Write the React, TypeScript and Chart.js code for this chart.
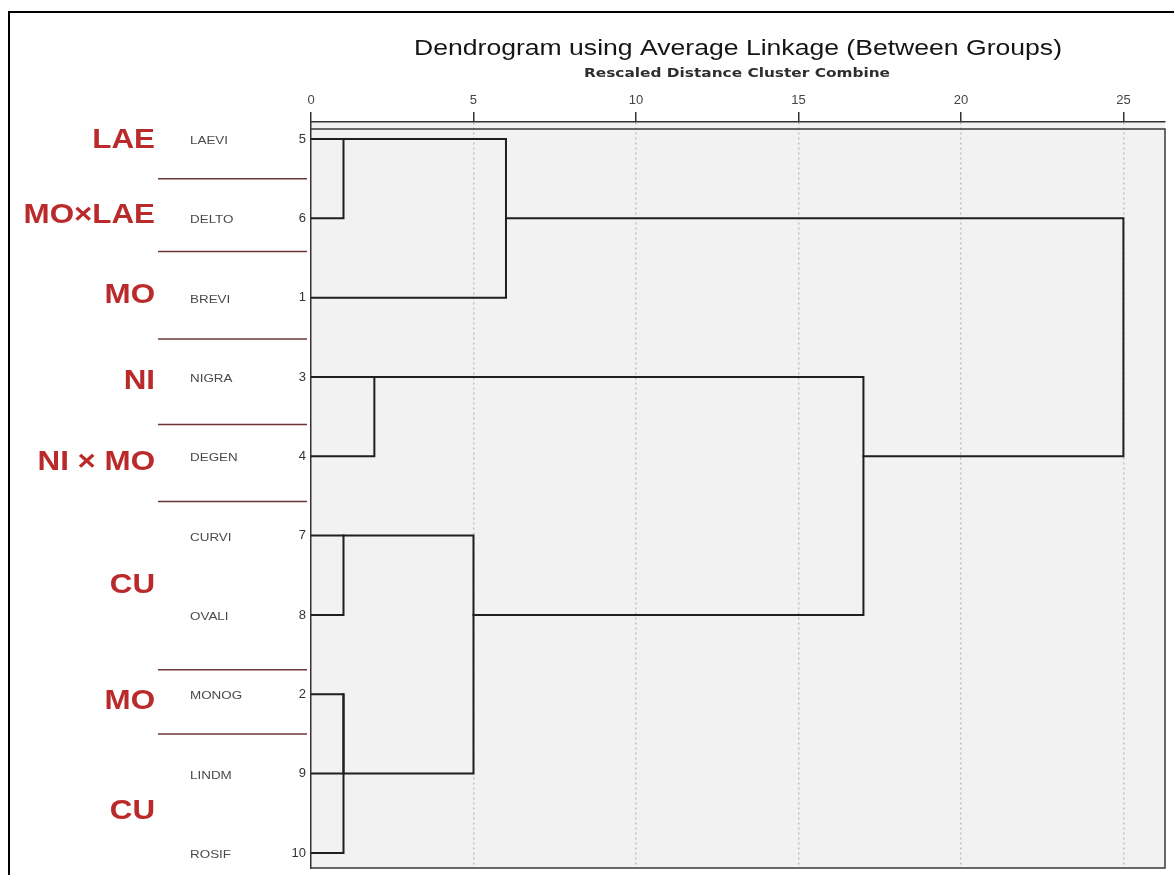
import React, { useEffect, useRef } from "react";
import { Chart, registerables } from "chart.js";

Chart.register(...registerables);

// ---------- data ----------
const leafNames = ["LAEVI", "DELTO", "BREVI", "NIGRA", "DEGEN", "CURVI", "OVALI", "MONOG", "LINDM", "ROSIF"];
const caseNumbers = ["5", "6", "1", "3", "4", "7", "8", "2", "9", "10"];
// agglomeration: leaves are ids 0..9, merge i creates cluster id 10 + i
const mergeA = [0, 10, 3, 5, 7, 14, 13, 12, 11];
const mergeB = [1, 2, 4, 6, 8, 9, 15, 16, 17];
const mergeDist = [1.0, 6.0, 1.95, 1.0, 1.0, 1.0, 5.0, 17.0, 25.0];
const xTickValues = [0, 5, 10, 15, 20, 25];
const groupLabels = ["LAE", "MO×LAE", "MO", "NI", "NI × MO", "CU", "MO", "CU"];
// group band limits, in leaf-row units
const groupBounds = [-0.45, 0.5, 1.42, 2.52, 3.6, 4.57, 6.69, 7.5, 9.46];
const titleText = "Dendrogram using Average Linkage (Between Groups)";
const subtitleText = "Rescaled Distance Cluster Combine";

// ---------- helpers ----------
function buildLinks() {
  const row: number[] = leafNames.map((_, i) => i);
  const height: number[] = leafNames.map(() => 0);
  const links: { x: number; y: number }[][] = [];
  mergeA.forEach((a, i) => {
    const b = mergeB[i];
    const d = mergeDist[i];
    links.push([
      { x: height[a], y: row[a] },
      { x: d, y: row[a] },
      { x: d, y: row[b] },
      { x: height[b], y: row[b] },
    ]);
    row.push(Math.floor((row[a] + row[b]) / 2));
    height.push(d);
  });
  return links;
}

function drawText(
  ctx: CanvasRenderingContext2D,
  text: string,
  x: number,
  y: number,
  font: string,
  color: string,
  align: CanvasTextAlign,
  sx: number
) {
  ctx.save();
  ctx.font = font;
  ctx.fillStyle = color;
  ctx.textAlign = align;
  ctx.textBaseline = "middle";
  ctx.translate(x, y);
  ctx.scale(sx, 1);
  ctx.fillText(text, 0, 0);
  ctx.restore();
}

function fitScale(ctx: CanvasRenderingContext2D, text: string, font: string, width: number) {
  ctx.save();
  ctx.font = font;
  const w = ctx.measureText(text).width;
  ctx.restore();
  return w > 0 ? width / w : 1;
}

const decorPlugin = {
  id: "decor",
  beforeDraw(chart: any) {
    const { ctx, chartArea: ca } = chart;
    ctx.save();
    ctx.fillStyle = "#ffffff";
    ctx.fillRect(0, 0, chart.width, chart.height);
    ctx.fillStyle = "#f2f2f2";
    ctx.fillRect(ca.left, ca.top, ca.right - ca.left, ca.bottom - ca.top);
    ctx.restore();
  },
  afterDraw(chart: any) {
    const { ctx, chartArea: ca } = chart;
    const yScale = chart.scales.y;
    ctx.save();
    // plot frame
    ctx.strokeStyle = "#3a3a3a";
    ctx.lineWidth = 1.5;
    ctx.beginPath();
    ctx.moveTo(ca.left, ca.top + 7);
    ctx.lineTo(ca.right, ca.top + 7);
    ctx.lineTo(ca.right, ca.bottom);
    ctx.lineTo(ca.left, ca.bottom);
    ctx.stroke();

    // outer figure border
    ctx.strokeStyle = "#000000";
    ctx.lineWidth = 2;
    ctx.beginPath();
    ctx.moveTo(9, chart.height);
    ctx.lineTo(9, 12);
    ctx.lineTo(chart.width, 12);
    ctx.stroke();

    // group separators
    ctx.strokeStyle = "#6e3636";
    ctx.lineWidth = 1.5;
    for (let i = 1; i < groupBounds.length - 1; i++) {
      const y = yScale.getPixelForValue(groupBounds[i]);
      ctx.beginPath();
      ctx.moveTo(158, y);
      ctx.lineTo(307, y);
      ctx.stroke();
    }
    ctx.restore();

    // group labels
    groupLabels.forEach((g, i) => {
      const y = yScale.getPixelForValue((groupBounds[i] + groupBounds[i + 1]) / 2);
      drawText(ctx, g, 155, y, 'bold 27px "Liberation Sans", Arial, sans-serif', "#bb2a2a", "right", 1.16);
    });

    // leaf names
    leafNames.forEach((n, i) => {
      const y = yScale.getPixelForValue(i) + 2;
      drawText(ctx, n, 190, y, '11px "Liberation Sans", Arial, sans-serif', "#4a4a4a", "left", 1.22);
    });

    // titles centred on the plot
    const cx = (ca.left + ca.right) / 2;
    const tFont = '22px "Liberation Sans", Arial, sans-serif';
    drawText(ctx, titleText, cx, 49, tFont, "#151515", "center", fitScale(ctx, titleText, tFont, 648));
    const sFont = 'bold 12px "DejaVu Sans", sans-serif';
    drawText(ctx, subtitleText, cx - 1, 74, sFont, "#2e2e2e", "center", fitScale(ctx, subtitleText, sFont, 306));
  },
};

export default function App() {
  const ref = useRef<HTMLCanvasElement>(null);
  useEffect(() => {
    document.body.style.margin = "0";
    document.body.style.overflow = "hidden";
    const links = buildLinks();
    const chart = new Chart(ref.current as HTMLCanvasElement, {
      type: "scatter",
      data: {
        datasets: links.map((pts) => ({
          data: pts,
          showLine: true,
          borderColor: "#1f1f1f",
          borderWidth: 2,
          pointRadius: 0,
          pointHoverRadius: 0,
          tension: 0,
          fill: false,
          borderJoinStyle: "miter",
          borderCapStyle: "square",
        })),
      },
      options: {
        responsive: false,
        animation: false,
        events: [],
        layout: { padding: { left: 0, top: 0, right: 9, bottom: 7 } },
        plugins: {
          legend: { display: false },
          tooltip: { enabled: false },
          title: { display: false },
        },
        scales: {
          x: {
            type: "linear",
            position: "top",
            min: 0,
            max: 26.28,
            afterBuildTicks: (s: any) => {
              s.ticks = xTickValues.map((v) => ({ value: v }));
            },
            afterFit: (s: any) => {
              s.height = 122;
              s.paddingLeft = 0;
              s.paddingRight = 0;
            },
            ticks: {
              color: "#444444",
              font: { family: '"Liberation Sans", Arial, sans-serif', size: 13 },
              padding: 4,
              maxRotation: 0,
              autoSkip: false,
            },
            grid: {
              color: (c: any) => (c.tick && c.tick.value === 0 ? "rgba(0,0,0,0)" : "#c2c2c2"),
              lineWidth: 1.5,
              tickColor: "#333333",
              tickLength: 10,
              tickWidth: 1.5,
            },
            border: { display: true, color: "#333333", width: 1.5, dash: [2, 3] },
          },
          y: {
            type: "linear",
            position: "left",
            reverse: true,
            min: -0.214,
            max: 9.19,
            afterBuildTicks: (s: any) => {
              s.ticks = leafNames.map((_, i) => ({ value: i }));
            },
            afterFit: (s: any) => {
              s.width = 311;
              s.paddingTop = 0;
              s.paddingBottom = 0;
            },
            ticks: {
              callback: (v: any) => caseNumbers[v as number] ?? "",
              color: "#333333",
              font: { family: '"Liberation Sans", Arial, sans-serif', size: 13 },
              padding: 5,
              autoSkip: false,
            },
            grid: { display: false, drawTicks: false },
            border: { display: true, color: "#333333", width: 1.5 },
          },
        },
      },
      plugins: [decorPlugin],
    } as any);
    return () => chart.destroy();
  }, []);
  return (
    <div style={{ width: 1174, height: 875, background: "#fff" }}>
      <canvas ref={ref} width={1174} height={875} style={{ display: "block", width: 1174, height: 875 }} />
    </div>
  );
}
